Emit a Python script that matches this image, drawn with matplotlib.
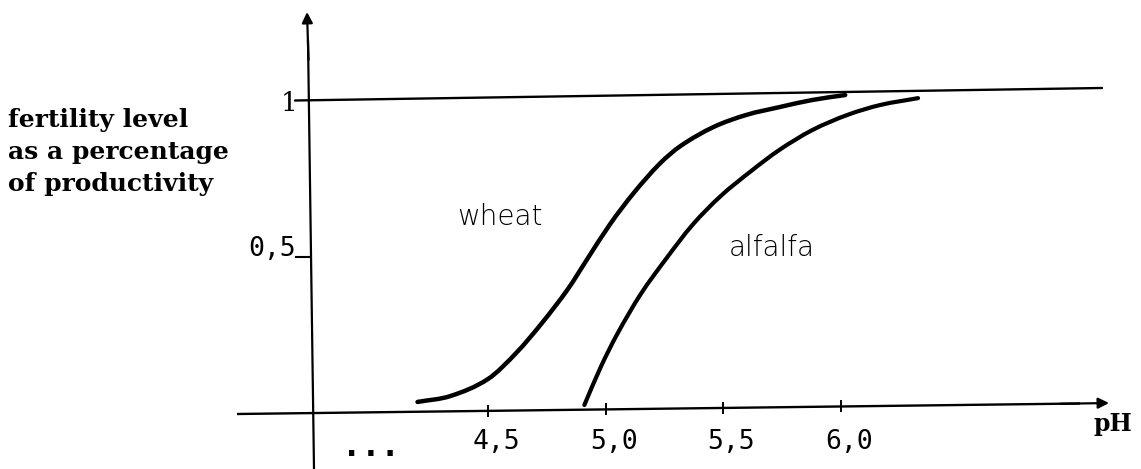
import matplotlib
matplotlib.use("Agg")
import matplotlib.pyplot as plt
from matplotlib.path import Path
from matplotlib.patches import PathPatch
import numpy as np

# ---- data ----
wheat_ph = [4.20, 4.34, 4.50, 4.62, 4.73, 4.84, 4.92, 5.02, 5.12, 5.23, 5.32,
            5.46, 5.60, 5.74, 5.88, 6.02]
wheat_level = [0.026, 0.045, 0.100, 0.184, 0.281, 0.390, 0.484, 0.600, 0.700,
               0.794, 0.852, 0.913, 0.952, 0.977, 1.000, 1.016]
alfalfa_ph = [4.91, 4.98, 5.05, 5.15, 5.26, 5.37, 5.49, 5.62, 5.74, 5.88,
              6.03, 6.17, 6.33]
alfalfa_level = [0.016, 0.139, 0.245, 0.374, 0.490, 0.597, 0.690, 0.771,
                 0.839, 0.903, 0.952, 0.984, 1.006]
x_ticks = [4.5, 5.0, 5.5, 6.0]
x_tick_labels = ["4,5", "5,0", "5,5", "6,0"]
y_ticks = [0.5, 1.0]
y_tick_labels = ["0,5", "1"]
y_title = "fertility level\nas a percentage\nof productivity"
x_title = "pH"
curve_labels = ["wheat", "alfalfa"]

# ---- figure / pixel <-> data mapping ----
W, H = 1141, 469
fig = plt.figure(figsize=(W / 100, H / 100), dpi=100)
ax = fig.add_axes([0, 0, 1, 1])


def X(px):
    return 4.5 + (px - 488) / 235.0


def Y(py):
    return (410 - py) / 310.0


ax.set_xlim(X(0), X(W))
ax.set_ylim(Y(H), Y(0))
ax.axis("off")

k = "black"
# y axis (slightly tilted, hand drawn) with arrow
ax.plot([X(308), X(314)], [Y(40), Y(469)], color=k, lw=1.6, solid_capstyle="butt")
ax.annotate("", xy=(X(307), Y(12)), xytext=(X(308.5), Y(60)),
            arrowprops=dict(arrowstyle="-|>", color=k, lw=1.6, mutation_scale=16,
                            shrinkA=0, shrinkB=0))
# x axis with arrow
ax.plot([X(237), X(1080)], [Y(414), Y(403.5)], color=k, lw=1.7, solid_capstyle="butt")
ax.annotate("", xy=(X(1109), Y(403)), xytext=(X(1060), Y(403.8)),
            arrowprops=dict(arrowstyle="-|>", color=k, lw=1.6, mutation_scale=16,
                            shrinkA=0, shrinkB=0))
# upper line at level 1
ax.plot([X(295), X(1102)], [Y(100.5), Y(88)], color=k, lw=1.7, solid_capstyle="round")
# y tick at 0.5
ax.plot([X(296), X(309)], [Y(257), Y(257)], color=k, lw=1.5)


def axis_y_at(px):
    return 414 + (403.5 - 414) * (px - 237) / (1080 - 237)


# x ticks
for t in x_ticks:
    px = 488 + (t - 4.5) * 235
    py = axis_y_at(px)
    ax.plot([t, t], [Y(py + 5), Y(py - 5)], color=k, lw=1.4)


def smooth_path(xs, ys):
    """Smooth curve through the points (cubic Hermite drawn as Bezier segments)."""
    x = np.asarray(xs, float)
    y = np.asarray(ys, float)
    n = len(x)
    m = np.empty(n)
    m[1:-1] = (y[2:] - y[:-2]) / (x[2:] - x[:-2])
    m[0] = (y[1] - y[0]) / (x[1] - x[0])
    m[-1] = (y[-1] - y[-2]) / (x[-1] - x[-2])
    verts = [(x[0], y[0])]
    codes = [Path.MOVETO]
    for i in range(n - 1):
        h = x[i + 1] - x[i]
        verts += [(x[i] + h / 3, y[i] + m[i] * h / 3),
                  (x[i + 1] - h / 3, y[i + 1] - m[i + 1] * h / 3),
                  (x[i + 1], y[i + 1])]
        codes += [Path.CURVE4] * 3
    return Path(verts, codes)


for xs, ys, lw in [(wheat_ph, wheat_level, 3.2), (alfalfa_ph, alfalfa_level, 3.0)]:
    ax.add_patch(PathPatch(smooth_path(xs, ys), fill=False, edgecolor=k, lw=lw,
                           capstyle="round", joinstyle="round"))

# tick labels
mono = "DejaVu Sans Mono"
for t, lab in zip(x_ticks, x_tick_labels):
    ax.text(t + 0.035, Y(442), lab, ha="center", va="center", fontsize=19,
            family=mono)
ax.text(X(296), y_ticks[0] + 0.018, y_tick_labels[0], ha="right", va="center",
        fontsize=19, family=mono)
ax.text(X(297), y_ticks[1] - 0.01, y_tick_labels[1], ha="right", va="center",
        fontsize=19, family="DejaVu Serif")
ax.text(X(371), Y(456), "...", ha="center", va="baseline", fontsize=23,
        family=mono, fontweight="bold")

# titles
ax.text(X(8), Y(152), y_title, ha="left", va="center", fontsize=18,
        family="DejaVu Serif", fontweight="bold", linespacing=1.42)
ax.text(X(1113), Y(424), x_title, ha="center", va="center", fontsize=17,
        family="DejaVu Serif", fontweight="bold")

# curve labels (handwritten in the original)
ax.text(X(500), Y(217), curve_labels[0], ha="center", va="center", fontsize=20,
        family="DejaVu Sans", fontweight="light")
ax.text(X(772), Y(248), curve_labels[1], ha="center", va="center", fontsize=20,
        family="DejaVu Sans", fontweight="light")

fig.savefig("out.png", dpi=100, facecolor="white")
